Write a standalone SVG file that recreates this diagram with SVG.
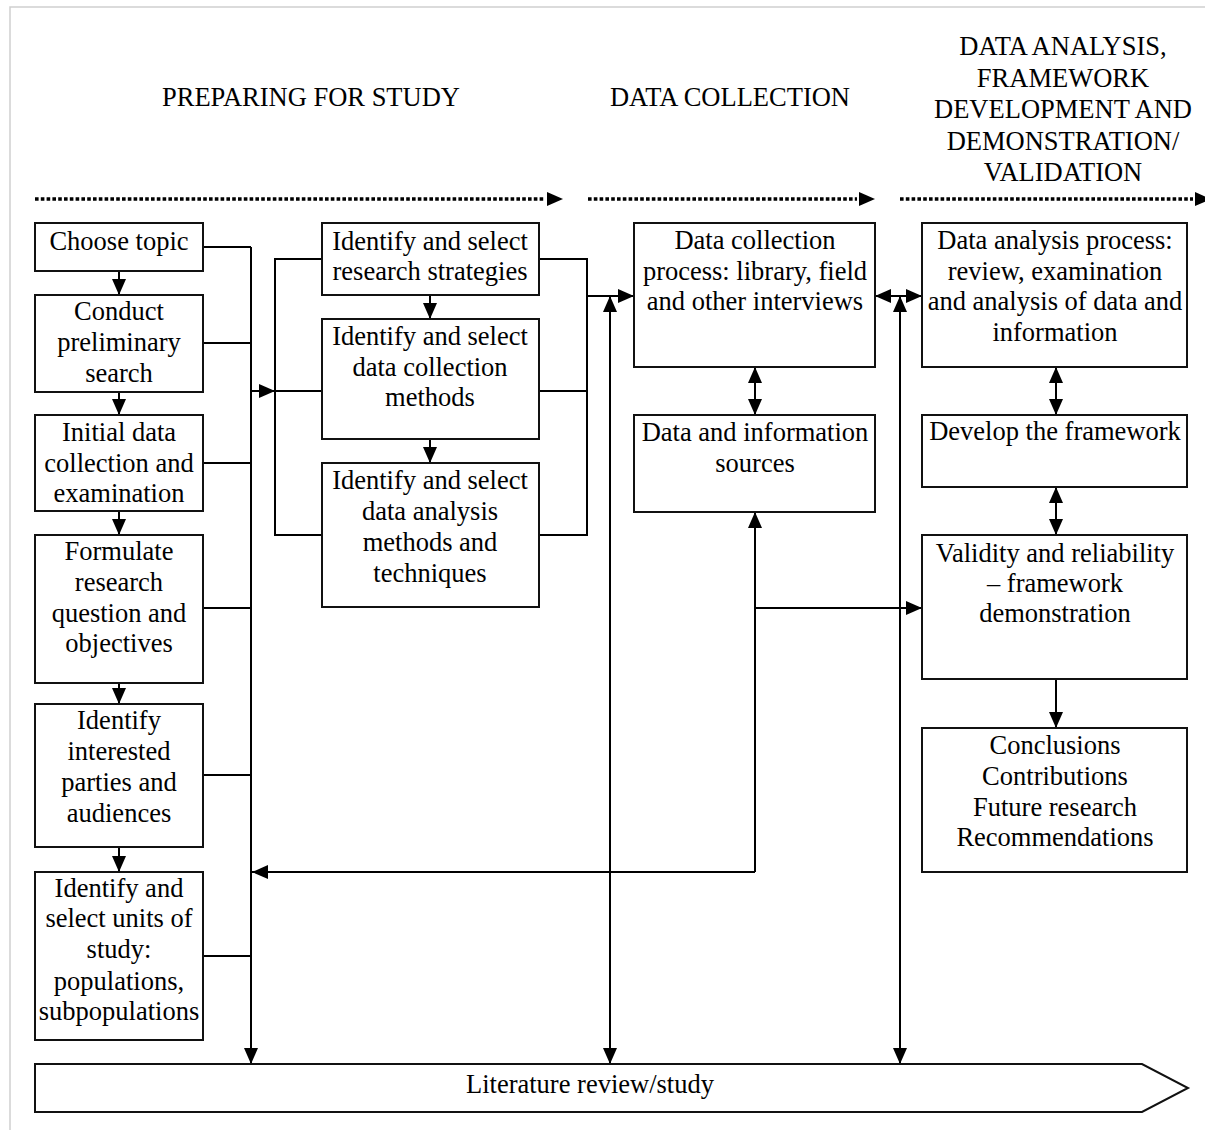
<svg xmlns="http://www.w3.org/2000/svg" width="1205" height="1130" viewBox="0 0 1205 1130">
<style>
  text { font-family: "Liberation Serif", "Times New Roman", serif; font-size: 26.5px; fill: #000; text-anchor: middle; }
  .box { fill: #fff; stroke: #111; stroke-width: 2; }
  .ln { fill: none; stroke: #000; stroke-width: 2; }
  .dot { fill: none; stroke: #000; stroke-width: 3.5; stroke-dasharray: 3.6 2.2; }
  .frame { fill: none; stroke: #cfcfcf; stroke-width: 1.5; }
</style>
<defs>
  <marker id="ah" markerUnits="userSpaceOnUse" markerWidth="16" markerHeight="14" refX="16" refY="7" orient="auto-start-reverse" viewBox="0 0 16 14">
    <path d="M0,0 L16,7 L0,14 z" fill="#000"/>
  </marker>
</defs>
<rect width="1205" height="1130" fill="#fff"/>
<path class="frame" d="M10,1130 V7 H1205"/>

<g id="headers">
  <text x="311" y="106">PREPARING FOR STUDY</text>
  <text x="730" y="106">DATA COLLECTION</text>
  <text x="1063" y="55">DATA ANALYSIS,</text>
  <text x="1063" y="87">FRAMEWORK</text>
  <text x="1063" y="118">DEVELOPMENT AND</text>
  <text x="1063" y="150">DEMONSTRATION/</text>
  <text x="1063" y="181">VALIDATION</text>
</g>

<g id="phase-arrows">
  <line class="dot" x1="35" y1="199" x2="545" y2="199"/>
  <polygon points="547,192 563,199 547,206" fill="#000"/>
  <line class="dot" x1="588" y1="199" x2="857" y2="199"/>
  <polygon points="859,192 875,199 859,206" fill="#000"/>
  <line class="dot" x1="900" y1="199" x2="1193" y2="199"/>
  <polygon points="1195,192 1211,199 1195,206" fill="#000"/>
</g>

<g id="connectors">
  <line class="ln" x1="119" y1="271" x2="119" y2="295" marker-end="url(#ah)"/>
  <line class="ln" x1="119" y1="392" x2="119" y2="415" marker-end="url(#ah)"/>
  <line class="ln" x1="119" y1="511" x2="119" y2="535" marker-end="url(#ah)"/>
  <line class="ln" x1="119" y1="683" x2="119" y2="704" marker-end="url(#ah)"/>
  <line class="ln" x1="119" y1="847" x2="119" y2="872" marker-end="url(#ah)"/>
  <path class="ln" d="M203,247 H251 M203,343 H251 M203,463 H251 M203,608 H251 M203,775 H251 M203,956 H251"/>
  <line class="ln" x1="251" y1="247" x2="251" y2="1064" marker-end="url(#ah)"/>
  <line class="ln" x1="251" y1="391" x2="275" y2="391" marker-end="url(#ah)"/>
  <line class="ln" x1="275" y1="391" x2="322" y2="391"/>
  <path class="ln" d="M322,259 H275 V535 H322"/>
  <path class="ln" d="M539,259 H587 V535 H539 M539,391 H587"/>
  <line class="ln" x1="430" y1="295" x2="430" y2="319" marker-end="url(#ah)"/>
  <line class="ln" x1="430" y1="439" x2="430" y2="463" marker-end="url(#ah)"/>
  <line class="ln" x1="587" y1="296" x2="634" y2="296" marker-end="url(#ah)"/>
  <line class="ln" x1="610" y1="296" x2="610" y2="1064" marker-start="url(#ah)" marker-end="url(#ah)"/>
  <line class="ln" x1="900" y1="296" x2="900" y2="1064" marker-start="url(#ah)" marker-end="url(#ah)"/>
  <line class="ln" x1="755" y1="367" x2="755" y2="415" marker-start="url(#ah)" marker-end="url(#ah)"/>
  <line class="ln" x1="875" y1="296" x2="922" y2="296" marker-start="url(#ah)" marker-end="url(#ah)"/>
  <line class="ln" x1="755" y1="872" x2="755" y2="512" marker-end="url(#ah)"/>
  <line class="ln" x1="755" y1="872" x2="252" y2="872" marker-end="url(#ah)"/>
  <line class="ln" x1="755" y1="608" x2="922" y2="608" marker-end="url(#ah)"/>
  <line class="ln" x1="1056" y1="367" x2="1056" y2="415" marker-start="url(#ah)" marker-end="url(#ah)"/>
  <line class="ln" x1="1056" y1="487" x2="1056" y2="535" marker-start="url(#ah)" marker-end="url(#ah)"/>
  <line class="ln" x1="1056" y1="679" x2="1056" y2="728" marker-end="url(#ah)"/>
</g>

<g id="choose-topic">
  <rect class="box" x="35" y="223" width="168" height="48"/>
  <text x="119" y="250">Choose topic</text>
</g>
<g id="preliminary-search">
  <rect class="box" x="35" y="295" width="168" height="97"/>
  <text x="119" y="320">Conduct</text>
  <text x="119" y="351">preliminary</text>
  <text x="119" y="382">search</text>
</g>
<g id="initial-data">
  <rect class="box" x="35" y="415" width="168" height="96"/>
  <text x="119" y="441">Initial data</text>
  <text x="119" y="472">collection and</text>
  <text x="119" y="502">examination</text>
</g>
<g id="formulate">
  <rect class="box" x="35" y="535" width="168" height="148"/>
  <text x="119" y="560">Formulate</text>
  <text x="119" y="591">research</text>
  <text x="119" y="622">question and</text>
  <text x="119" y="652">objectives</text>
</g>
<g id="interested-parties">
  <rect class="box" x="35" y="704" width="168" height="143"/>
  <text x="119" y="729">Identify</text>
  <text x="119" y="760">interested</text>
  <text x="119" y="791">parties and</text>
  <text x="119" y="822">audiences</text>
</g>
<g id="units-of-study">
  <rect class="box" x="35" y="872" width="168" height="168"/>
  <text x="119" y="897">Identify and</text>
  <text x="119" y="927">select units of</text>
  <text x="119" y="958">study:</text>
  <text x="119" y="990">populations,</text>
  <text x="119" y="1020">subpopulations</text>
</g>

<g id="research-strategies">
  <rect class="box" x="322" y="223" width="217" height="72"/>
  <text x="430" y="250">Identify and select</text>
  <text x="430" y="280">research strategies</text>
</g>
<g id="data-collection-methods">
  <rect class="box" x="322" y="319" width="217" height="120"/>
  <text x="430" y="345">Identify and select</text>
  <text x="430" y="376">data collection</text>
  <text x="430" y="406">methods</text>
</g>
<g id="data-analysis-methods">
  <rect class="box" x="322" y="463" width="217" height="144"/>
  <text x="430" y="489">Identify and select</text>
  <text x="430" y="520">data analysis</text>
  <text x="430" y="551">methods and</text>
  <text x="430" y="582">techniques</text>
</g>

<g id="data-collection-process">
  <rect class="box" x="634" y="223" width="241" height="144"/>
  <text x="755" y="249">Data collection</text>
  <text x="755" y="280">process: library, field</text>
  <text x="755" y="310">and other interviews</text>
</g>
<g id="data-sources">
  <rect class="box" x="634" y="415" width="241" height="97"/>
  <text x="755" y="441">Data and information</text>
  <text x="755" y="472">sources</text>
</g>

<g id="data-analysis-process">
  <rect class="box" x="922" y="223" width="265" height="144"/>
  <text x="1055" y="249">Data analysis process:</text>
  <text x="1055" y="280">review, examination</text>
  <text x="1055" y="310">and analysis of data and</text>
  <text x="1055" y="341">information</text>
</g>
<g id="develop-framework">
  <rect class="box" x="922" y="415" width="265" height="72"/>
  <text x="1055" y="440">Develop the framework</text>
</g>
<g id="validity">
  <rect class="box" x="922" y="535" width="265" height="144"/>
  <text x="1055" y="562">Validity and reliability</text>
  <text x="1055" y="592">– framework</text>
  <text x="1055" y="622">demonstration</text>
</g>
<g id="conclusions">
  <rect class="box" x="922" y="728" width="265" height="144"/>
  <text x="1055" y="754">Conclusions</text>
  <text x="1055" y="785">Contributions</text>
  <text x="1055" y="816">Future research</text>
  <text x="1055" y="846">Recommendations</text>
</g>

<g id="literature-review">
  <polygon class="box" points="35,1064 1142,1064 1188,1088 1142,1112 35,1112"/>
  <text x="590" y="1093">Literature review/study</text>
</g>
</svg>
